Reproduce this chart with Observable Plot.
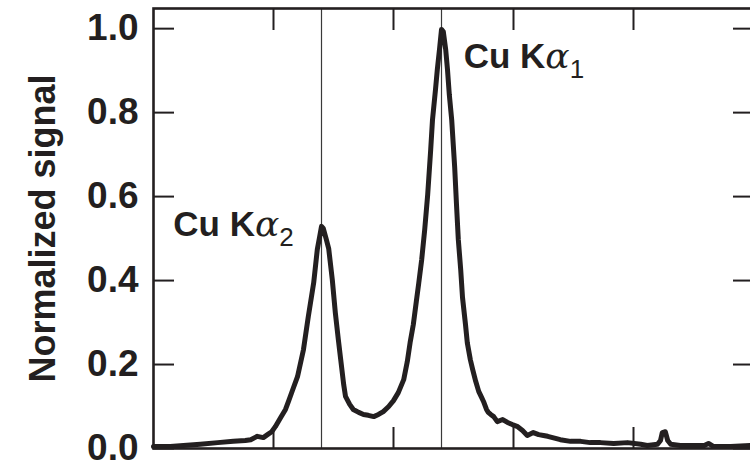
<!DOCTYPE html>
<html><head><meta charset="utf-8">
<script src="https://cdn.jsdelivr.net/npm/d3@7"></script>
<script src="https://cdn.jsdelivr.net/npm/@observablehq/plot@0.6"></script>
<style>body{margin:0;background:#fff;overflow:hidden;} svg{overflow:hidden;}</style>
</head><body><div id="chart"></div>
<script>
// Photon energy (eV) and normalized signal
const energy = [
  8000.0, 8002.8, 8005.0, 8007.8, 8010.7, 8013.3, 8015.3, 8016.2, 8017.3, 8018.3,
  8019.0, 8019.7, 8020.3, 8021.2, 8022.0, 8022.5, 8023.2, 8024.0, 8025.0, 8025.8,
  8026.7, 8027.3, 8027.7, 8028.0, 8028.3, 8028.8, 8029.2, 8029.8, 8030.3, 8030.8,
  8031.2, 8031.7, 8032.0, 8032.7, 8033.3, 8034.2, 8035.0, 8035.8, 8036.7, 8037.5,
  8038.3, 8039.2, 8040.0, 8040.8, 8041.7, 8042.3, 8042.8, 8043.3, 8043.8, 8044.2,
  8044.7, 8045.2, 8045.7, 8046.2, 8046.5, 8047.0, 8047.3, 8047.7, 8048.0, 8048.3,
  8048.7, 8049.0, 8049.3, 8049.7, 8050.2, 8050.5, 8050.8, 8051.2, 8051.5, 8052.0,
  8052.3, 8052.8, 8053.2, 8053.7, 8054.2, 8054.7, 8055.0, 8055.5, 8055.8, 8056.2,
  8056.7, 8057.3, 8058.2, 8059.0, 8059.8, 8060.7, 8061.5, 8062.3, 8063.3, 8064.2,
  8065.0, 8065.7, 8067.0, 8067.8, 8069.5, 8071.2, 8072.8, 8074.5, 8076.7, 8079.0,
  8081.2, 8082.3, 8084.0, 8084.5, 8084.8, 8085.3, 8085.7, 8086.2, 8087.8, 8090.7,
  8091.8, 8092.5, 8093.3, 8096.2, 8099.5
];
const signal = [
  0.005, 0.005, 0.007, 0.010, 0.014, 0.017, 0.019, 0.021, 0.029, 0.026,
  0.033, 0.040, 0.052, 0.074, 0.093, 0.112, 0.140, 0.171, 0.236, 0.314,
  0.395, 0.474, 0.505, 0.529, 0.524, 0.498, 0.476, 0.402, 0.324, 0.260,
  0.212, 0.152, 0.124, 0.105, 0.093, 0.086, 0.081, 0.079, 0.076, 0.081,
  0.088, 0.100, 0.114, 0.133, 0.164, 0.207, 0.255, 0.295, 0.350, 0.393,
  0.450, 0.521, 0.605, 0.712, 0.783, 0.855, 0.902, 0.955, 0.998, 0.993,
  0.950, 0.902, 0.843, 0.783, 0.669, 0.581, 0.498, 0.426, 0.360, 0.295,
  0.252, 0.212, 0.188, 0.160, 0.136, 0.121, 0.112, 0.093, 0.086, 0.081,
  0.076, 0.064, 0.069, 0.062, 0.057, 0.052, 0.043, 0.031, 0.038, 0.033,
  0.031, 0.029, 0.024, 0.021, 0.017, 0.017, 0.014, 0.014, 0.012, 0.014,
  0.010, 0.007, 0.010, 0.019, 0.038, 0.040, 0.019, 0.010, 0.007, 0.007,
  0.007, 0.012, 0.005, 0.005, 0.007
];
const lineNames = ["Cu Kα2", "Cu Kα1"];
const lineEnergy = [8028.0, 8048.0];
const yTicks = [0.0, 0.2, 0.4, 0.6, 0.8, 1.0];
const xTicks = [8020, 8040, 8060, 8080];
const yTitle = "Normalized signal";

const data = energy.map((e, i) => ({energy: e, signal: signal[i]}));
const ink = "#231f20";
const font = "'Liberation Sans', Arial, Helvetica, sans-serif";

const chart = Plot.plot({
  width: 750,
  height: 461,
  marginLeft: 153,
  marginRight: -3,
  marginTop: 8,
  marginBottom: 13,
  style: {fontFamily: font, background: "#fff", color: ink},
  x: {domain: [8000, 8100]},
  y: {domain: [0, 1.048]},
  marks: [
    Plot.ruleX(lineEnergy, {stroke: "#3a3a3a", strokeWidth: 1.2}),
    Plot.line(data, {x: "energy", y: "signal", stroke: ink, strokeWidth: 5, strokeLinejoin: "round", curve: "linear"}),
    Plot.axisY(yTicks, {anchor: "left", tickSize: -21, strokeWidth: 2, stroke: ink, tickFormat: () => "", label: null}),
    Plot.axisY(yTicks, {anchor: "right", tickSize: -21, strokeWidth: 2, stroke: ink, tickFormat: () => "", label: null}),
    Plot.axisY(yTicks, {anchor: "left", tickSize: 0, tickPadding: 15, tickFormat: d => d.toFixed(1), fontSize: 37, fontWeight: "bold", fill: ink, label: null}),
    Plot.axisX(xTicks, {anchor: "bottom", tickSize: -21, strokeWidth: 2, stroke: ink, tickFormat: () => "", label: null}),
    Plot.axisX(xTicks, {anchor: "top", tickSize: -21, strokeWidth: 2, stroke: ink, tickFormat: () => "", label: null}),
    Plot.frame({stroke: ink, strokeWidth: 2.6}),
    Plot.text([yTitle], {frameAnchor: "left", dx: -110, rotate: -90, textAnchor: "middle", fontSize: 36, fontWeight: "bold", fill: ink, text: d => d}),
    Plot.text([lineNames[0]], {x: 8003.3, y: 0.507, text: d => d, textAnchor: "start", lineAnchor: "bottom", fontSize: 35, fontWeight: "bold", fill: ink}),
    Plot.text([lineNames[1]], {x: 8051.7, y: 0.907, text: d => d, textAnchor: "start", lineAnchor: "bottom", fontSize: 35, fontWeight: "bold", fill: ink})
  ]
});

// Greek letter in italics and line index as a subscript, as real text
chart.querySelectorAll("text").forEach(t => {
  const s = t.textContent;
  const m = /^(Cu K)α(\d)$/.exec(s);
  if (!m) return;
  const ns = "http://www.w3.org/2000/svg";
  t.textContent = "";
  t.appendChild(document.createTextNode(m[1]));
  const a = document.createElementNS(ns, "tspan");
  a.setAttribute("font-style", "italic");
  a.setAttribute("font-weight", "normal");
  a.setAttribute("font-family", "'DejaVu Serif', serif");
  a.setAttribute("font-size", "36");
  a.textContent = "α";
  t.appendChild(a);
  const sub = document.createElementNS(ns, "tspan");
  sub.setAttribute("font-size", "26");
  sub.setAttribute("font-weight", "normal");
  sub.setAttribute("dy", "10");
  sub.textContent = m[2];
  t.appendChild(sub);
});

document.getElementById("chart").appendChild(chart);
</script>
</body></html>
